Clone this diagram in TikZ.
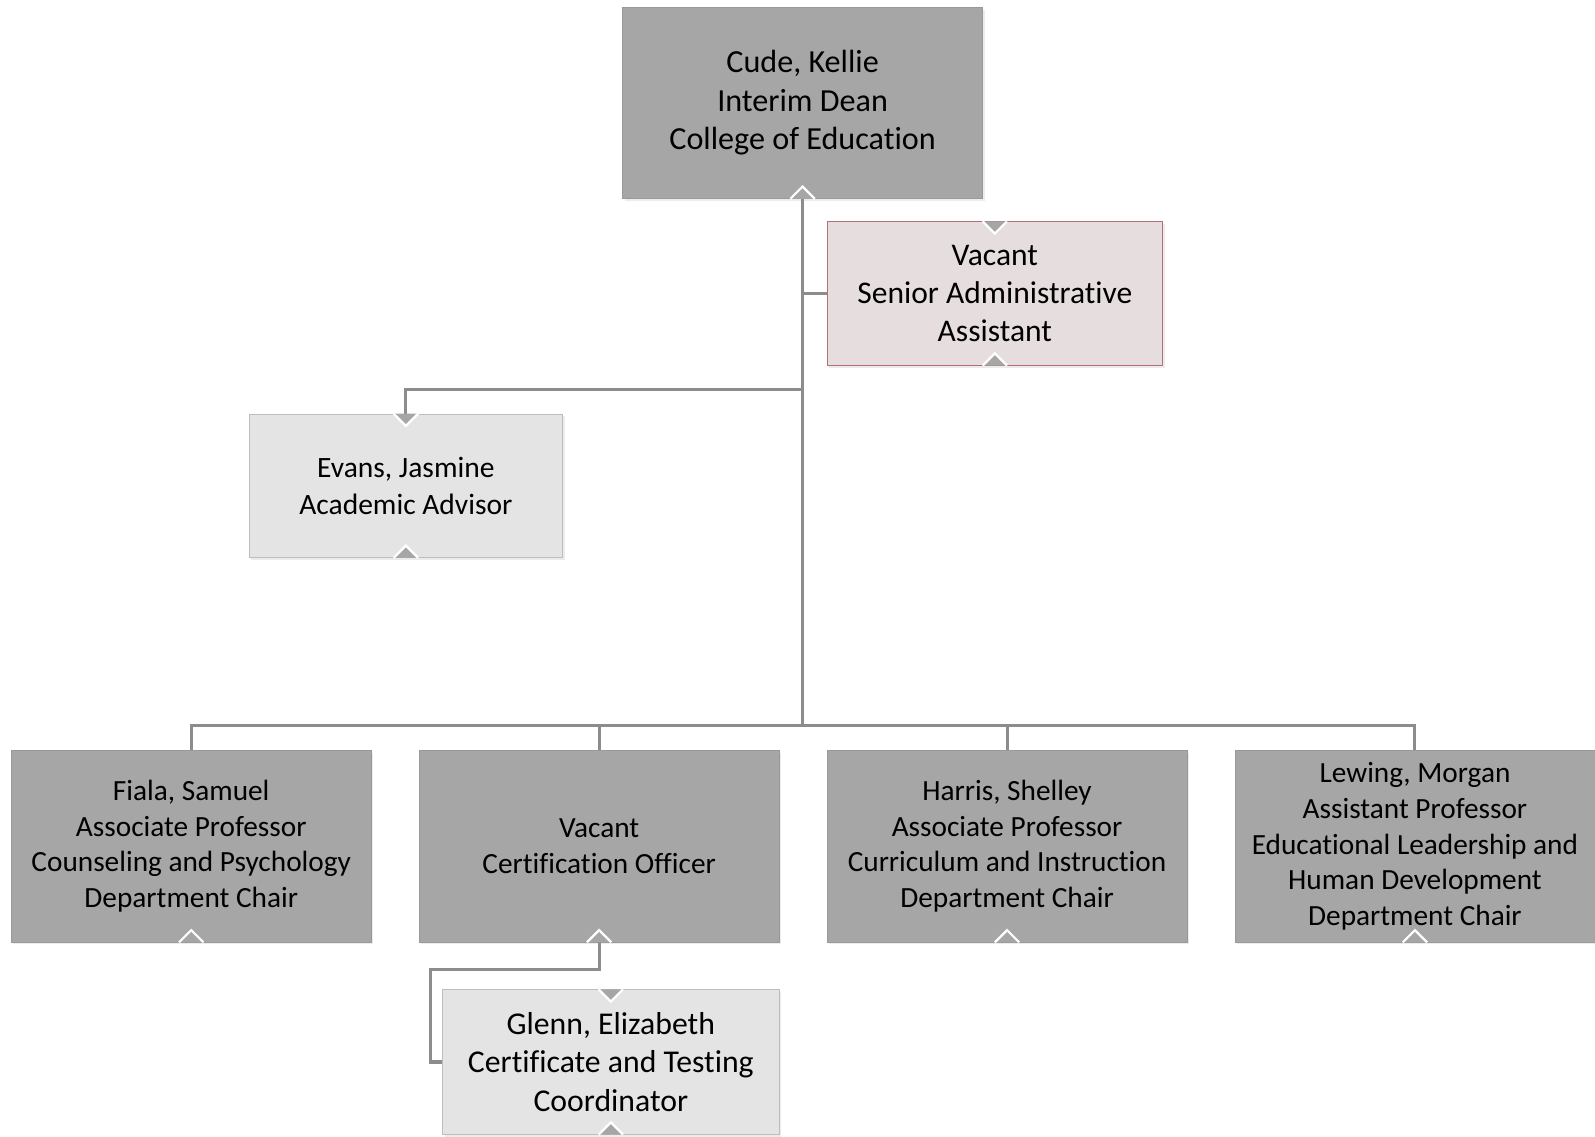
\documentclass[tikz,border=0pt]{standalone}
\usepackage{fontspec}
\setmainfont{Carlito}[Ligatures=NoCommon]
\usetikzlibrary{shadows}
\definecolor{darkfill}{HTML}{A6A6A6}
\definecolor{darkline}{HTML}{999999}
\definecolor{lightfill}{HTML}{E4E4E4}
\definecolor{lightline}{HTML}{BDBDBD}
\definecolor{rosefill}{HTML}{E6DEDE}
\definecolor{roseline}{HTML}{B86E78}
\definecolor{linkgray}{HTML}{8C8C8C}
\begin{document}
\begin{tikzpicture}[x=0.5pt,y=-0.5pt,
  box/.style={draw=darkline,fill=darkfill,minimum width=177pt,minimum height=94pt,
    align=center,inner sep=0pt,font=\fontsize{14.4}{17.5}\selectfont,
    drop shadow={opacity=0.15,shadow xshift=1pt,shadow yshift=-1.2pt}},
  staffbox/.style={box,draw=lightline,fill=lightfill,minimum height=70.5pt},
  link/.style={draw=linkgray,line width=1.5pt},
  notch/.style={fill=darkfill,draw=white,line width=1.1pt,line join=miter}]
\useasboundingbox (0,0) rectangle (1568,1117);
% boxes
\node[box,font=\fontsize{15.8}{19}\selectfont] (dean) at (789,101) {Cude, Kellie\\Interim Dean\\College of Education};
\node[staffbox,draw=roseline,fill=rosefill,minimum width=165pt,font=\fontsize{15.5}{18.75}\selectfont] (saa) at (978,288.5) {Vacant\\Senior Administrative\\Assistant};
\node[staffbox,minimum width=154pt,font=\fontsize{14.5}{18}\selectfont] (evans) at (399,477.5) {Evans, Jasmine\\Academic Advisor};
\node[box] (fiala) at (188,832) {Fiala, Samuel\\Associate Professor\\Counseling and Psychology\\Department Chair};
\node[box] (cert) at (589,832) {Vacant\\Certification Officer};
\node[box] (harris) at (990,832) {Harris, Shelley\\Associate Professor\\Curriculum and Instruction\\Department Chair};
\node[box] (lewing) at (1391,832) {Lewing, Morgan\\Assistant Professor\\Educational Leadership and\\Human Development\\Department Chair};
\node[staffbox,minimum width=165.5pt,minimum height=71pt,font=\fontsize{15.6}{18.75}\selectfont] (glenn) at (600.5,1044) {Glenn, Elizabeth\\Certificate and Testing\\Coordinator};
% connectors
\coordinate (bus) at (789,713);
\coordinate (evansjoin) at (789,383);
\coordinate (glennturn) at (423,953);
\draw[link] (dean.south) -- (bus);
\draw[link] (saa.west) -- (saa.west -| bus);
\draw[link] (evans.north) |- (evansjoin);
\draw[link] (fiala.north) |- (bus) -| (lewing.north);
\draw[link] (cert.north) -- (cert.north |- bus);
\draw[link] (harris.north) -- (harris.north |- bus);
\draw[link] (cert.south) |- (glennturn) |- (glenn.west);
% notches
\foreach \n in {dean,saa,evans,fiala,cert,harris,lewing,glenn}
  \draw[notch] ([xshift=-6pt]\n.south) -- ([yshift=6pt]\n.south) -- ([xshift=6pt]\n.south);
\foreach \n in {saa,evans,glenn}
  \filldraw[notch] ([xshift=-6pt]\n.north) -- ([yshift=-6pt]\n.north) -- ([xshift=6pt]\n.north);
\end{tikzpicture}
\end{document}
